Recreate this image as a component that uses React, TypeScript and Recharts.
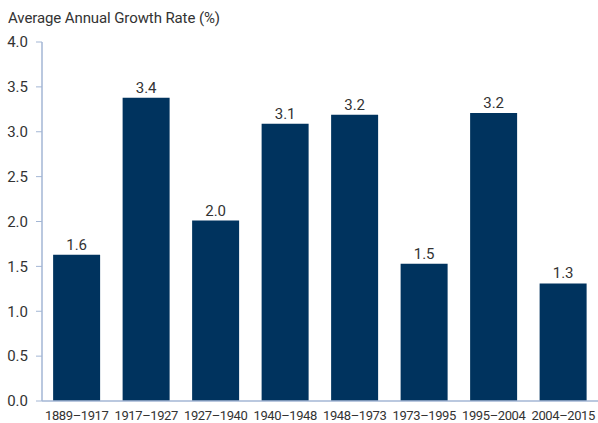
import { BarChart, Bar, XAxis, YAxis, LabelList } from 'recharts';

const periods = ['1889–1917', '1917–1927', '1927–1940', '1940–1948', '1948–1973', '1973–1995', '1995–2004', '2004–2015'];
const growthRates = [1.63, 3.38, 2.01, 3.09, 3.19, 1.53, 3.21, 1.31];
const yTicks = [0, 0.5, 1, 1.5, 2, 2.5, 3, 3.5, 4];

const data = periods.map((period, i) => ({ period, rate: growthRates[i] }));

const font = 'Roboto, "Liberation Sans Narrow", sans-serif';
const textColor = '#333333';
const axisColor = '#a3b6d4';

const App = () => {
  return (
    <div style={{ position: 'absolute', left: 0, top: 0, width: 598, height: 423, background: '#fff', fontFamily: font }}>
      <div style={{ position: 'absolute', left: 8, top: 9, fontSize: 15, color: textColor, letterSpacing: -0.1 }}>
        Average Annual Growth Rate (%)
      </div>
      <BarChart width={598} height={423} data={data} margin={{ top: 42, right: 0, bottom: 0, left: 2 }} barCategoryGap="16%">
        <XAxis
          dataKey="period"
          height={22}
          tickLine={false}
          tickSize={0}
          tickMargin={10}
          axisLine={{ stroke: axisColor, strokeWidth: 1.5 }}
          tick={{ fill: textColor, fontSize: 13, fontFamily: font, letterSpacing: -0.4 }}
          interval={0}
        />
        <YAxis
          width={40}
          domain={[0, 4]}
          ticks={yTicks}
          tickFormatter={(v) => v.toFixed(1)}
          tickSize={6}
          tickMargin={8}
          tickLine={{ stroke: axisColor }}
          axisLine={{ stroke: axisColor, strokeWidth: 1.5 }}
          tick={{ fill: textColor, fontSize: 15, fontFamily: font }}
        />
        <Bar dataKey="rate" fill="#00335e" isAnimationActive={false}>
          <LabelList
            dataKey="rate"
            position="top"
            offset={5}
            formatter={(v) => Number(v).toFixed(1)}
            style={{ fill: textColor, fontSize: 15, fontFamily: font }}
          />
        </Bar>
      </BarChart>
    </div>
  );
};

export default App;
